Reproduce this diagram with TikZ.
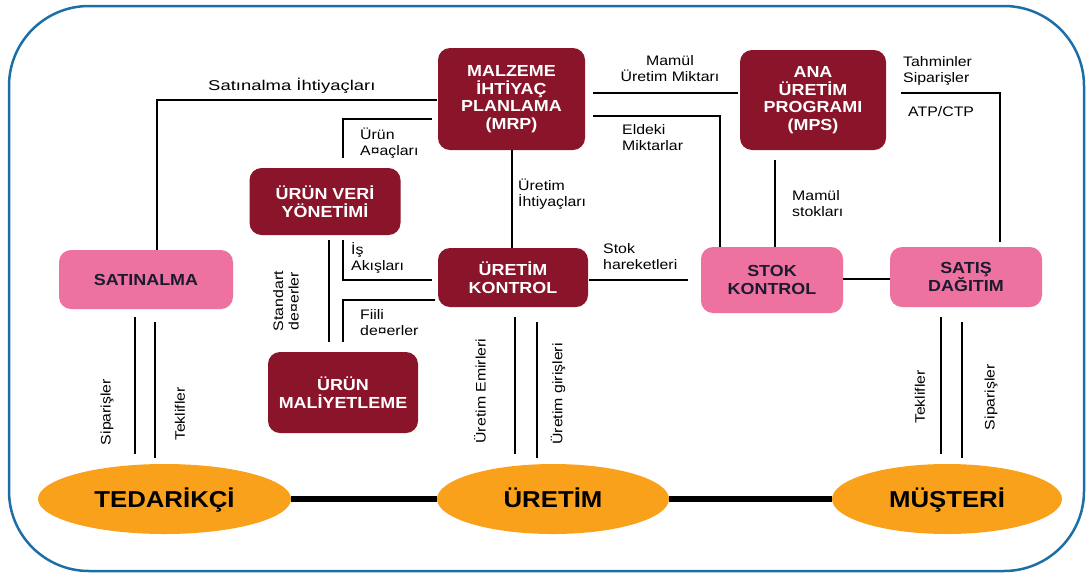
\documentclass[tikz,border=0pt]{standalone}
\usepackage{fontspec}
\setmainfont{Liberation Sans}[FakeStretch=1.12]
\newfontfamily\labfont{Liberation Sans}[FakeStretch=1.15]
\newfontfamily\widefont{Liberation Sans}[FakeStretch=1.3]
\usetikzlibrary{shapes.geometric}
\definecolor{dred}{HTML}{8A1429}
\definecolor{pinkc}{HTML}{EE72A0}
\definecolor{orng}{HTML}{F9A11A}
\definecolor{frameblue}{HTML}{1B6FA6}
\definecolor{navy}{HTML}{1C1A30}
\begin{document}
\begin{tikzpicture}[x=1pt,y=-1pt,
  darkbox/.style={rectangle, rounded corners=12pt, fill=dred, text=white,
    font=\bfseries\fontsize{16}{17.5}\selectfont, align=center, inner sep=0pt},
  pinkbox/.style={darkbox, fill=pinkc, text=navy},
  oval/.style={ellipse, fill=orng, text=black, inner sep=0pt,
    text height=16.5pt, text depth=0pt,
    font=\bfseries\fontsize{23}{25}\selectfont},
  lab/.style={font=\labfont\fontsize{13.8}{15.6}\selectfont, inner sep=0pt,
    align=left, text=black},
  conn/.style={draw=black, line width=2pt},
  bond/.style={draw=black, line width=6pt}
]
\useasboundingbox (0,0) rectangle (1087,574);
\draw[frameblue, line width=2.5pt, rounded corners=80pt] (9,6) rectangle (1084,571);

% boxes
\node[darkbox, minimum width=147pt, minimum height=102pt] (mrp) at (511.5,99) {MALZEME\\İHTİYAÇ\\PLANLAMA\\(MRP)};
\node[darkbox, minimum width=146pt, minimum height=100pt] (mps) at (813,100) {ANA\\ÜRETİM\\PROGRAMI\\(MPS)};
\node[darkbox, minimum width=151pt, minimum height=67pt] (uvy) at (325,201.5) {ÜRÜN VERİ\\YÖNETİMİ};
\node[darkbox, minimum width=150pt, minimum height=59pt] (uk) at (513,277.5) {ÜRETİM\\KONTROL};
\node[darkbox, minimum width=150pt, minimum height=81pt] (um) at (343,392.5) {ÜRÜN\\MALİYETLEME};
\node[pinkbox, minimum width=174pt, minimum height=59pt] (sat) at (146,279.5) {SATINALMA};
\node[pinkbox, minimum width=142pt, minimum height=66pt] (stok) at (772,280) {STOK\\KONTROL};
\node[pinkbox, minimum width=152pt, minimum height=60pt] (sd) at (966,277) {SATIŞ\\DAĞITIM};

% ellipses
\node[oval, minimum width=253pt, minimum height=70pt] (ted) at (164.5,499) {TEDARİKÇİ};
\node[oval, minimum width=232pt, minimum height=70pt] (ur) at (553,499) {ÜRETİM};
\node[oval, minimum width=230pt, minimum height=70pt] (mus) at (947,499) {MÜŞTERİ};
\draw[bond] (ted) -- (ur);
\draw[bond] (ur) -- (mus);

% connectors
\draw[conn] ([xshift=-1pt]mrp.west |- 0,100) -| (sat.north -| 157,0);
\draw[conn] ([xshift=-6pt]mrp.west |- 0,119) -| ([yshift=10pt]uvy.north -| 343,0);
\draw[conn] (mrp.south -| 512,0) -- (uk.north -| 512,0);
\draw[conn] ([xshift=8pt]mrp.east |- 0,93) -- ([xshift=-2pt]mps.west |- 0,93);
\draw[conn] ([xshift=8pt]mrp.east |- 0,116) -| (stok.north -| 720,0);
\draw[conn] ([yshift=-10pt]mps.south -| 775,0) -- (stok.north -| 775,0);
\draw[conn] ([xshift=15pt]mps.east |- 0,93) -| ([yshift=5pt]sd.north -| 1000,0);
\draw[conn] ([yshift=-5pt]uvy.south -| 343,0) |- ([xshift=-6pt]uk.west |- 0,280);
\draw[conn] ([yshift=-5pt]uvy.south -| 329,0) -- ([yshift=10pt]um.north -| 329,0);
\draw[conn] ([xshift=-3pt]uk.west |- 0,300) -| ([yshift=10pt]um.north -| 343,0);
\draw[conn] ([xshift=1pt]uk.east |- 0,280) -- ([xshift=-13pt]stok.west |- 0,280);
\draw[conn] (stok.east |- 0,279) -- (sd.west |- 0,279);

\draw[conn] ([yshift=-8pt]sat.south -| 135,0) -- ([yshift=10pt]ted.north -| 135,0);
\draw[conn] ([yshift=-13pt]sat.south -| 155,0) -- ([yshift=6pt]ted.north -| 155,0);
\draw[conn] ([yshift=-10pt]uk.south -| 515,0) -- ([yshift=10pt]ur.north -| 515,0);
\draw[conn] ([yshift=-15pt]uk.south -| 537,0) -- ([yshift=6pt]ur.north -| 537,0);
\draw[conn] ([yshift=-10pt]sd.south -| 941,0) -- ([yshift=10pt]mus.north -| 941,0);
\draw[conn] ([yshift=-15pt]sd.south -| 962,0) -- ([yshift=6pt]mus.north -| 962,0);

% labels (base = baseline of the last line)
\node[lab, anchor=base west, font=\widefont\fontsize{14.2}{15.6}\selectfont] (l1) at (208,90) {Satınalma İhtiyaçları};
\node[lab, anchor=base west] (l2) at (360,155) {Ürün\\A¤açları};
\node[lab, anchor=base west] (l3) at (518,206) {Üretim\\İhtiyaçları};
\node[lab, anchor=base, align=center] (l4) at (670,81) {Mamül\\Üretim Miktarı};
\node[lab, anchor=base west] (l5) at (622,150) {Eldeki\\Miktarlar};
\node[lab, anchor=base west] (l6) at (903,82) {Tahminler\\Siparişler};
\node[lab, anchor=base west] (l7) at (908,116) {ATP/CTP};
\node[lab, anchor=base west] (l8) at (792,216) {Mamül\\stokları};
\node[lab, anchor=base west] (l9) at (351,270) {İş\\Akışları};
\node[lab, anchor=base west] (l10) at (603,269) {Stok\\hareketleri};
\node[lab, anchor=base west] (l11) at (360,335) {Fiili\\de¤erler};
\node[lab, rotate=90, align=center] (l12) at (286,301) {Standart\\de¤erler};
\node[lab, rotate=90] (l13) at (107,412) {Siparişler};
\node[lab, rotate=90] (l14) at (180,414) {Teklifler};
\node[lab, rotate=90] (l15) at (480,391) {Üretim Emirleri};
\node[lab, rotate=90] (l16) at (558,394) {Üretim girişleri};
\node[lab, rotate=90] (l17) at (920,397) {Teklifler};
\node[lab, rotate=90] (l18) at (991,397) {Siparişler};
\end{tikzpicture}
\end{document}
